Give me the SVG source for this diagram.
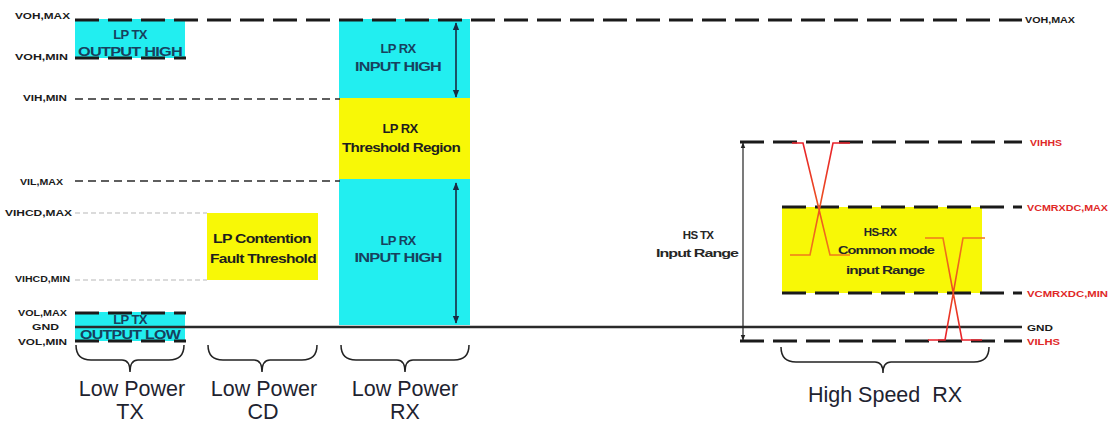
<svg xmlns="http://www.w3.org/2000/svg" width="1112" height="426" viewBox="0 0 1112 426">
<style>
.bg{fill:#ffffff}
.cyan{fill:#22eef0}
.yel{fill:#f8f806}
.lbl{font-family:"Liberation Sans",Arial,sans-serif;font-weight:bold;font-size:9px;fill:#1a1a1a}
.rl{fill:#e02828}
.box{font-family:"Liberation Sans",Arial,sans-serif;font-weight:bold;font-size:13px;text-anchor:middle;letter-spacing:-0.6px}
.teal{fill:#17415e}
.dk{fill:#1e1e1e}
.hs{font-family:"Liberation Sans",Arial,sans-serif;font-weight:bold;font-size:11.5px;text-anchor:middle;fill:#262626;letter-spacing:-0.7px}
.big{font-family:"Liberation Sans",Arial,sans-serif;font-size:21.5px;text-anchor:middle;fill:#1e2330}
.thick{stroke:#1a1a1a;stroke-width:3;stroke-dasharray:24 9;fill:none}
.thin{stroke:#2a2a2a;stroke-width:1.4;stroke-dasharray:8 5;fill:none}
.gray{stroke:#b8b8b8;stroke-width:1.2;stroke-dasharray:5 3;fill:none}
.gnd{stroke:#2a2a2a;stroke-width:2.5;fill:none}
.brace{stroke:#222;stroke-width:1.5;fill:none}
.arr{stroke:#1a2c44;stroke-width:1.6;fill:none;marker-start:url(#ah);marker-end:url(#ah)}
.arr2{stroke:#222;stroke-width:1.2;fill:none;marker-start:url(#ah2);marker-end:url(#ah2)}
</style>
<defs>
<marker id="ah" viewBox="0 0 10 10" refX="9" refY="5" markerWidth="5" markerHeight="5" orient="auto-start-reverse"><path d="M0,1 L10,5 L0,9 z" fill="#1a2c44"/></marker>
<marker id="ah2" viewBox="0 0 10 10" refX="9" refY="5" markerWidth="5" markerHeight="5" orient="auto-start-reverse"><path d="M0,1 L10,5 L0,9 z" fill="#222"/></marker>
<linearGradient id="g1" gradientUnits="userSpaceOnUse" x1="0" y1="143" x2="0" y2="255"><stop offset="0" stop-color="#e8202a"/><stop offset="1" stop-color="#f07a1a"/></linearGradient>
<linearGradient id="g2" gradientUnits="userSpaceOnUse" x1="0" y1="238" x2="0" y2="340"><stop offset="0" stop-color="#f07a1a"/><stop offset="1" stop-color="#e8202a"/></linearGradient>
</defs>
<rect class="bg" x="0" y="0" width="1112" height="426"/>

<g id="lp-tx-high">
<rect class="cyan" x="75" y="19" width="110" height="39"/>
<text class="box teal" x="130" y="39">LP TX</text>
<text class="box teal" x="130" y="56" textLength="104" lengthAdjust="spacingAndGlyphs">OUTPUT HIGH</text>
</g>

<g id="lp-tx-low">
<rect class="cyan" x="75" y="312" width="110" height="29"/>
<text class="box teal" x="130" y="324" font-size="12">LP TX</text>
<text class="box teal" x="130" y="339" font-size="12" textLength="100" lengthAdjust="spacingAndGlyphs">OUTPUT LOW</text>
</g>

<g id="lp-cd">
<rect class="yel" x="207" y="213" width="111" height="67"/>
<text class="box dk" x="262" y="243" font-size="12.5" textLength="98" lengthAdjust="spacingAndGlyphs">LP Contention</text>
<text class="box dk" x="263" y="263" font-size="12.5" textLength="106" lengthAdjust="spacingAndGlyphs">Fault Threshold</text>
</g>

<g id="lp-rx">
<rect class="cyan" x="339" y="19" width="131" height="80"/>
<rect class="yel" x="339" y="98" width="131" height="81"/>
<rect class="cyan" x="339" y="179" width="131" height="146"/>
<text class="box teal" x="398" y="53">LP RX</text>
<text class="box teal" x="398" y="71" textLength="86" lengthAdjust="spacingAndGlyphs">INPUT HIGH</text>
<text class="box dk" x="400" y="133">LP RX</text>
<text class="box dk" x="401" y="152" textLength="118" lengthAdjust="spacingAndGlyphs">Threshold Region</text>
<text class="box teal" x="398" y="245">LP RX</text>
<text class="box teal" x="398" y="262" textLength="87" lengthAdjust="spacingAndGlyphs">INPUT HIGH</text>
</g>

<g id="hs-rx">
<rect class="yel" x="782" y="207" width="200" height="86"/>
<text class="hs" x="880" y="236">HS-RX</text>
<text class="hs" x="886" y="254" textLength="96" lengthAdjust="spacingAndGlyphs">Common mode</text>
<text class="hs" x="885" y="274" textLength="78" lengthAdjust="spacingAndGlyphs">input Range</text>
</g>

<g id="hs-tx">
<text class="hs" x="698" y="239">HS TX</text>
<text class="hs" x="697" y="257" textLength="82" lengthAdjust="spacingAndGlyphs">Input Range</text>
</g>

<g id="connectors">
<line class="thick" x1="75" y1="20" x2="1022" y2="20"/>
<line class="thick" x1="75" y1="58" x2="186" y2="58"/>
<line class="thin" x1="75" y1="99" x2="340" y2="99"/>
<line class="thin" x1="75" y1="181" x2="340" y2="181" stroke="#111"/>
<line class="gray" x1="75" y1="213" x2="207" y2="213"/>
<line class="gray" x1="75" y1="280" x2="207" y2="280"/>
<line class="thick" x1="75" y1="313" x2="186" y2="313" stroke-width="2.5"/>
<line class="gnd" x1="75" y1="327" x2="1022" y2="327"/>
<line class="thick" x1="75" y1="341" x2="186" y2="341" stroke-width="2.5"/>
<line class="thick" x1="740" y1="142" x2="1022" y2="142"/>
<line class="thick" x1="782" y1="207" x2="1022" y2="207"/>
<line class="thick" x1="782" y1="293" x2="1022" y2="293"/>
<line class="thick" x1="740" y1="341" x2="1022" y2="341"/>
<line class="arr" x1="456" y1="23" x2="456" y2="97"/>
<line class="arr" x1="456" y1="183" x2="456" y2="323"/>
<line class="arr2" x1="743" y1="143" x2="743" y2="340"/>
<path d="M792,143 L803,143 L830,255 L850,255 M790,255 L810,255 L833,143 L850,143" stroke="url(#g1)" stroke-width="1.6" fill="none"/>
<path d="M925,238 L943,238 L962,340 L982,340 M928,340 L945,340 L963,238 L985,238" stroke="url(#g2)" stroke-width="1.6" fill="none"/>
<path class="brace" d="M76,345 Q76,360 91,360 L122,360 Q130,360 130,372 Q130,360 138,360 L169,360 Q184,360 184,345"/>
<path class="brace" d="M208,345 Q208,360 223,360 L254,360 Q262,360 262,372 Q262,360 270,360 L302,360 Q317,360 317,345"/>
<path class="brace" d="M341,345 Q341,360 356,360 L397,360 Q405,360 405,372 Q405,360 413,360 L454,360 Q469,360 469,345"/>
<path class="brace" d="M781,347 Q781,362 796,362 L875,362 Q883,362 883,373 Q883,362 891,362 L974,362 Q989,362 989,347"/>
</g>

<g id="left-labels">
<text class="lbl" x="15" y="19" textLength="55" lengthAdjust="spacingAndGlyphs">VOH,MAX</text>
<text class="lbl" x="15" y="60" textLength="53" lengthAdjust="spacingAndGlyphs">VOH,MIN</text>
<text class="lbl" x="23" y="101" textLength="44" lengthAdjust="spacingAndGlyphs">VIH,MIN</text>
<text class="lbl" x="20" y="185" textLength="43" lengthAdjust="spacingAndGlyphs">VIL,MAX</text>
<text class="lbl" x="5" y="216" textLength="67" lengthAdjust="spacingAndGlyphs">VIHCD,MAX</text>
<text class="lbl" x="15" y="282" textLength="55" lengthAdjust="spacingAndGlyphs">VIHCD,MIN</text>
<text class="lbl" x="18" y="316" textLength="49" lengthAdjust="spacingAndGlyphs">VOL,MAX</text>
<text class="lbl" x="32" y="330" textLength="27" lengthAdjust="spacingAndGlyphs">GND</text>
<text class="lbl" x="18" y="345" textLength="49" lengthAdjust="spacingAndGlyphs">VOL,MIN</text>
</g>

<g id="right-labels">
<text class="lbl" x="1025" y="23" textLength="50" lengthAdjust="spacingAndGlyphs">VOH,MAX</text>
<text class="lbl rl" x="1030" y="146" textLength="32" lengthAdjust="spacingAndGlyphs">VIHHS</text>
<text class="lbl rl" x="1027" y="211" textLength="81" lengthAdjust="spacingAndGlyphs">VCMRXDC,MAX</text>
<text class="lbl rl" x="1027" y="297" textLength="81" lengthAdjust="spacingAndGlyphs">VCMRXDC,MIN</text>
<text class="lbl" x="1027" y="331" textLength="26" lengthAdjust="spacingAndGlyphs">GND</text>
<text class="lbl rl" x="1027" y="345" textLength="33" lengthAdjust="spacingAndGlyphs">VILHS</text>
</g>

<g id="group-labels">
<text class="big" x="132" y="396">Low Power</text>
<text class="big" x="130" y="419">TX</text>
<text class="big" x="264" y="396">Low Power</text>
<text class="big" x="263" y="419">CD</text>
<text class="big" x="405" y="396">Low Power</text>
<text class="big" x="405" y="419">RX</text>
<text class="big" x="885" y="402">High Speed&#160; RX</text>
</g>
</svg>
